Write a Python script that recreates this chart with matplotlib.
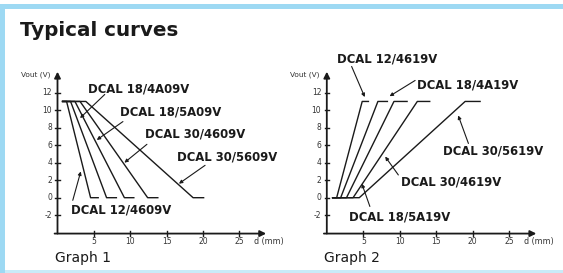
import matplotlib
matplotlib.use("Agg")
import matplotlib.pyplot as plt
from matplotlib.patches import Rectangle

# ---------------- data ----------------
g1_names = ["DCAL 12/4609V", "DCAL 18/4A09V", "DCAL 18/5A09V", "DCAL 30/4609V", "DCAL 30/5609V"]
g1_x = [
    [0.7, 1.25, 4.55, 5.6],
    [0.7, 1.8, 6.75, 8.1],
    [0.7, 2.4, 9.2, 10.5],
    [0.7, 3.1, 12.4, 13.8],
    [0.7, 3.9, 18.65, 20.1],
]
g1_y = [11, 11, 0, 0]

g2_names = ["DCAL 12/4619V", "DCAL 18/4A19V", "DCAL 30/4619V", "DCAL 30/5619V", "DCAL 18/5A19V"]
g2_x = [
    [0.8, 1.35, 4.85, 5.7],
    [0.8, 1.9, 7.0, 8.3],
    [0.8, 2.7, 9.2, 11.0],
    [0.8, 3.6, 12.4, 14.1],
    [0.8, 4.45, 18.95, 21.0],
]
g2_y = [0, 0, 11, 11]

x_ticks = [5, 10, 15, 20, 25]
y_ticks = [-2, 0, 2, 4, 6, 8, 10, 12]

W, H = 563, 273
fig = plt.figure(figsize=(W / 100, H / 100), dpi=100)
fig.patch.set_facecolor("white")

BLUE = "#9dd9f3"
LBLUE = "#c9ebf8"
# frame
fig.add_artist(Rectangle((0, 0), 5 / W, (H - 4) / H, transform=fig.transFigure, color=BLUE, lw=0))
fig.add_artist(Rectangle((0, (H - 9) / H), 1, 5 / H, transform=fig.transFigure, color=BLUE, lw=0))
fig.add_artist(Rectangle((5 / W, 0), 1, 3 / H, transform=fig.transFigure, color=LBLUE, lw=0))

fig.text(20 / W, 1 - 30 / H, "Typical curves", fontsize=14.3, fontweight="bold",
         va="center", ha="left", color="#1a1a1a")

XLIM = (-1, 29)
YLIM = (-4.5, 15)
XAX = -4.1
ppy = 8.75


def make_axes(x0_px, ppx):
    left = x0_px - 1 * ppx
    width = 30 * ppx
    bottom_py = 197.7 + 4.5 * ppy
    height = 19.5 * ppy
    ax = fig.add_axes([left / W, (H - bottom_py) / H, width / W, height / H])
    ax.set_xlim(*XLIM)
    ax.set_ylim(*YLIM)
    ax.patch.set_alpha(0)
    for s in ["top", "right", "left", "bottom"]:
        ax.spines[s].set_visible(False)
    ax.set_xticks([])
    ax.set_yticks([])
    # manual axes lines
    ax.annotate("", xy=(28.7, XAX), xytext=(-0.4, XAX),
                arrowprops=dict(arrowstyle="-|>", lw=1.3, color="#1a1a1a",
                                mutation_scale=9, shrinkA=0, shrinkB=0), annotation_clip=False)
    ax.annotate("", xy=(0, 14.4), xytext=(0, XAX),
                arrowprops=dict(arrowstyle="-|>", lw=1.3, color="#1a1a1a",
                                mutation_scale=9, shrinkA=0, shrinkB=0), annotation_clip=False)
    # tick marks
    for t in x_ticks:
        ax.plot([t, t], [XAX - 0.25, XAX + 0.25], color="#1a1a1a", lw=1.0, clip_on=False)
    for t in y_ticks:
        ax.plot([-0.3, 0.3], [t, t], color="#1a1a1a", lw=1.0, clip_on=False)
    for t in x_ticks:
        ax.text(t, XAX - 0.95, str(t), ha="center", va="center", fontsize=5.5, color="#333333")
    for t in y_ticks:
        ax.text(-0.75, t, str(t), ha="right", va="center", fontsize=5.5, color="#333333")
    ax.text(27.0, XAX - 0.95, "d (mm)", ha="left", va="center", fontsize=5.8, color="#333333")
    ax.text(-1.0, 14.1, "Vout (V)", ha="right", va="center", fontsize=5.3, color="#333333")
    return ax


def arrow(ax, start, end):
    ax.annotate("", xy=end, xytext=start,
                arrowprops=dict(arrowstyle="-|>", lw=0.8, color="#1a1a1a",
                                mutation_scale=5, shrinkA=0, shrinkB=0), annotation_clip=False)


LBL = dict(fontsize=8.4, fontweight="bold", color="#1a1a1a", ha="left", va="center")

# ---------- graph 1 ----------
ax1 = make_axes(57.5, 7.27)
for xs in g1_x:
    ax1.plot(xs, g1_y, color="#1a1a1a", lw=1.0, solid_joinstyle="round")
ax1.text(4.2, 12.4, g1_names[1], **LBL)
ax1.text(8.6, 9.8, g1_names[2], **LBL)
ax1.text(12.1, 7.3, g1_names[3], **LBL)
ax1.text(16.4, 4.7, g1_names[4], **LBL)
ax1.text(1.85, -1.4, g1_names[0], **LBL)
arrow(ax1, (6.5, 11.8), (3.1, 9.1))
arrow(ax1, (9.0, 8.7), (5.4, 6.6))
arrow(ax1, (12.3, 6.1), (9.2, 4.0))
arrow(ax1, (20.3, 3.7), (16.7, 1.6))
arrow(ax1, (2.1, -0.3), (3.2, 3.0))
ax1.text(-0.35, -6.9, "Graph 1", fontsize=10, color="#1a1a1a", ha="left", va="center")

# ---------- graph 2 ----------
ax2 = make_axes(326.8, 7.3)
for xs in g2_x:
    ax2.plot(xs, g2_y, color="#1a1a1a", lw=1.0, solid_joinstyle="round")
ax2.text(1.36, 15.85, g2_names[0], **LBL)
ax2.text(12.3, 12.9, g2_names[1], **LBL)
ax2.text(10.1, 1.83, g2_names[2], **LBL)
ax2.text(15.9, 5.37, g2_names[3], **LBL)
ax2.text(3.04, -2.17, g2_names[4], **LBL)
arrow(ax2, (3.4, 15.0), (5.2, 11.5))
arrow(ax2, (12.1, 13.4), (8.6, 11.6))
arrow(ax2, (19.4, 6.2), (18.0, 9.4))
arrow(ax2, (9.8, 2.6), (8.0, 4.7))
arrow(ax2, (5.9, -1.0), (4.8, 1.6))
ax2.text(-0.35, -6.9, "Graph 2", fontsize=10, color="#1a1a1a", ha="left", va="center")

fig.savefig("out.png", dpi=100)
